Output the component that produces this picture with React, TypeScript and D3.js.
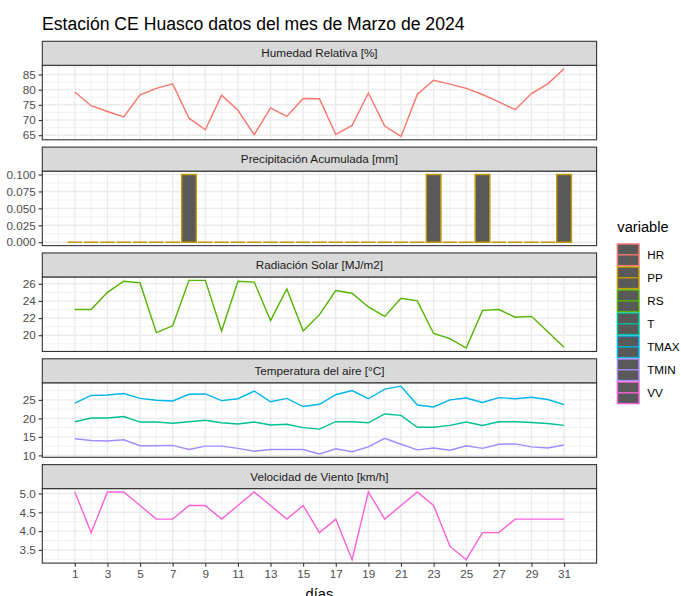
import React, { useEffect, useRef } from 'react';
import * as d3 from 'd3';

// dias del mes
const dias = [1, 2, 3, 4, 5, 6, 7, 8, 9, 10, 11, 12, 13, 14, 15, 16, 17, 18, 19, 20, 21, 22, 23, 24, 25, 26, 27, 28, 29, 30, 31];

const HR = [79.2, 74.7, 72.8, 71.0, 78.3, 80.4, 81.9, 70.6, 66.8, 78.2, 73.2, 65.2, 74.0, 71.2, 77.1, 77.0, 65.2, 68.2, 78.9, 68.0, 64.6, 78.4, 83.1, 81.8, 80.4, 78.4, 76.0, 73.4, 78.7, 81.9, 86.9];
const PP = [0, 0, 0, 0, 0, 0, 0, 0.1, 0, 0, 0, 0, 0, 0, 0, 0, 0, 0, 0, 0, 0, 0, 0.1, 0, 0, 0.1, 0, 0, 0, 0, 0.1];
const RS = [23.0, 23.0, 25.0, 26.3, 26.1, 20.3, 21.1, 26.4, 26.4, 20.5, 26.3, 26.2, 21.7, 25.4, 20.5, 22.4, 25.2, 24.9, 23.3, 22.2, 24.3, 24.0, 20.2, 19.6, 18.5, 22.9, 23.0, 22.1, 22.2, 20.4, 18.6];
const TMAX = [24.1, 26.2, 26.3, 26.7, 25.4, 24.9, 24.7, 26.5, 26.6, 24.8, 25.3, 27.4, 24.5, 25.4, 23.2, 23.8, 26.4, 27.5, 25.3, 27.9, 28.7, 23.6, 23.1, 25.0, 25.5, 24.3, 25.6, 25.3, 25.7, 25.1, 23.7];
const T = [19.1, 20.1, 20.1, 20.5, 19.0, 19.0, 18.7, 19.1, 19.5, 18.8, 18.5, 19.0, 18.2, 18.4, 17.5, 17.1, 19.1, 19.1, 18.8, 21.2, 20.8, 17.6, 17.6, 18.1, 19.0, 18.1, 19.1, 19.1, 18.9, 18.6, 18.1];
const TMIN = [14.5, 14.0, 13.9, 14.2, 12.6, 12.6, 12.7, 11.6, 12.5, 12.5, 11.9, 11.1, 11.6, 11.6, 11.6, 10.4, 11.8, 11.0, 12.3, 14.6, 13.0, 11.5, 12.0, 11.4, 12.6, 11.9, 13.0, 13.1, 12.3, 12.0, 12.8];
const VV = [5.04, 3.96, 5.04, 5.04, 4.68, 4.32, 4.32, 4.68, 4.68, 4.32, 4.68, 5.04, 4.68, 4.32, 4.68, 3.96, 4.32, 3.24, 5.04, 4.32, 4.68, 5.04, 4.68, 3.6, 3.24, 3.96, 3.96, 4.32, 4.32, 4.32, 4.32];

const xTicks = [1, 3, 5, 7, 9, 11, 13, 15, 17, 19, 21, 23, 25, 27, 29, 31];
const hrTicks = [65, 70, 75, 80, 85];
const ppTicks = [0, 0.025, 0.05, 0.075, 0.1];
const rsTicks = [20, 22, 24, 26];
const tTicks = [10, 15, 20, 25];
const vvTicks = [3.5, 4.0, 4.5, 5.0];

const variables = ['HR', 'PP', 'RS', 'T', 'TMAX', 'TMIN', 'VV'];
const colores = ['#F8766D', '#C49A00', '#53B400', '#00C094', '#00B6EB', '#A58AFF', '#FB61D7'];

const FONT = '"Liberation Sans", Arial, Helvetica, sans-serif';

const App = () => {
  const ref = useRef(null);

  useEffect(() => {
    if (ref.current) drawChart(ref.current);
  }, []);

  return <div ref={ref} style={{ position: 'absolute', left: 0, top: 0 }} />;
};

function drawChart(container) {
  d3.select(container).selectAll('*').remove();

  const width = 681, height = 596;
  const left = 42.3, right = 596.6;
  const top0 = 41.3, stripH = 24, panelH = 74.5, gap = 7.33;
  const color = d3.scaleOrdinal().domain(variables).range(colores);

  const svg = d3.select(container).append('svg')
    .attr('width', width)
    .attr('height', height)
    .style('display', 'block')
    .style('font-family', FONT)
    .style('background', '#fff');

  // title
  svg.append('text')
    .attr('x', 42)
    .attr('y', 29.5)
    .attr('font-size', 17.6)
    .attr('fill', '#000')
    .text('Estación CE Huasco datos del mes de Marzo de 2024');

  // x scale shared (bars 0.9 wide + 5% expansion)
  const xr = [1 - 0.45, 31 + 0.45];
  const xpad = (xr[1] - xr[0]) * 0.05;
  const x = d3.scaleLinear().domain([xr[0] - xpad, xr[1] + xpad]).range([left, right]);

  const panels = [
    { title: 'Humedad Relativa [%]', series: [['HR', HR]], ticks: hrTicks, fmt: d3.format('d') },
    { title: 'Precipitación Acumulada [mm]', series: [['PP', PP]], ticks: ppTicks, fmt: d3.format('.3f'), bars: true },
    { title: 'Radiación Solar [MJ/m2]', series: [['RS', RS]], ticks: rsTicks, fmt: d3.format('d') },
    { title: 'Temperatura del aire [°C]', series: [['T', T], ['TMAX', TMAX], ['TMIN', TMIN]], ticks: tTicks, fmt: d3.format('d') },
    { title: 'Velocidad de Viento [km/h]', series: [['VV', VV]], ticks: vvTicks, fmt: d3.format('.1f') },
  ];

  panels.forEach((p, i) => {
    const sTop = top0 + i * (stripH + panelH + gap);
    const pTop = sTop + stripH;
    const pBot = pTop + panelH;

    const all = p.series.flatMap(s => s[1]);
    let lo = d3.min(all), hi = d3.max(all);
    if (p.bars) lo = Math.min(0, lo);
    const pad = (hi - lo) * 0.05;
    const y = d3.scaleLinear().domain([lo - pad, hi + pad]).range([pBot, pTop]);

    const g = svg.append('g');

    // panel background
    g.append('rect')
      .attr('x', left).attr('y', pTop)
      .attr('width', right - left).attr('height', panelH)
      .attr('fill', '#fff');

    // minor grid
    const step = p.ticks[1] - p.ticks[0];
    const ext = [p.ticks[0] - step, ...p.ticks, p.ticks[p.ticks.length - 1] + step];
    const yMinor = d3.pairs(ext).map(([a, b]) => (a + b) / 2)
      .filter(v => v >= y.domain()[0] && v <= y.domain()[1]);
    const xMinor = [0, 2, 4, 6, 8, 10, 12, 14, 16, 18, 20, 22, 24, 26, 28, 30, 32];

    g.selectAll('.yminor').data(yMinor).enter().append('line')
      .attr('x1', left).attr('x2', right)
      .attr('y1', d => y(d)).attr('y2', d => y(d))
      .attr('stroke', '#EBEBEB').attr('stroke-width', 0.71);
    g.selectAll('.xminor').data(xMinor).enter().append('line')
      .attr('x1', d => x(d)).attr('x2', d => x(d))
      .attr('y1', pTop).attr('y2', pBot)
      .attr('stroke', '#EBEBEB').attr('stroke-width', 0.71);

    // major grid
    g.selectAll('.ymajor').data(p.ticks).enter().append('line')
      .attr('x1', left).attr('x2', right)
      .attr('y1', d => y(d)).attr('y2', d => y(d))
      .attr('stroke', '#EBEBEB').attr('stroke-width', 1.42);
    g.selectAll('.xmajor').data(xTicks).enter().append('line')
      .attr('x1', d => x(d)).attr('x2', d => x(d))
      .attr('y1', pTop).attr('y2', pBot)
      .attr('stroke', '#EBEBEB').attr('stroke-width', 1.42);

    // data
    p.series.forEach(([name, vals]) => {
      const data = dias.map((d, k) => ({ d, v: vals[k] }));
      if (p.bars) {
        g.selectAll('.bar-' + name).data(data).enter().append('path')
          .attr('d', o => `M${x(o.d - 0.45)},${y(0)}H${x(o.d + 0.45)}V${y(o.v)}H${x(o.d - 0.45)}Z`)
          .attr('fill', '#595959')
          .attr('stroke', color(name))
          .attr('stroke-width', 1.42);
      } else {
        g.append('path')
          .datum(data)
          .attr('fill', 'none')
          .attr('stroke', color(name))
          .attr('stroke-width', 1.42)
          .attr('d', d3.line().x(o => x(o.d)).y(o => y(o.v)));
      }
    });

    // panel border
    g.append('rect')
      .attr('x', left).attr('y', pTop)
      .attr('width', right - left).attr('height', panelH)
      .attr('fill', 'none').attr('stroke', '#333333').attr('stroke-width', 1.1);

    // strip
    g.append('rect')
      .attr('x', left).attr('y', sTop)
      .attr('width', right - left).attr('height', stripH)
      .attr('fill', '#D9D9D9').attr('stroke', '#333333').attr('stroke-width', 1.1);
    g.append('text')
      .attr('x', (left + right) / 2).attr('y', sTop + stripH / 2)
      .attr('dy', '0.35em')
      .attr('text-anchor', 'middle')
      .attr('font-size', 11.7)
      .attr('fill', '#1A1A1A')
      .text(p.title);

    // y axis
    const yAxis = g.append('g')
      .attr('transform', `translate(${left},0)`)
      .call(d3.axisLeft(y).tickValues(p.ticks).tickFormat(p.fmt).tickSize(3.67).tickPadding(2.9));
    yAxis.select('.domain').remove();
    yAxis.selectAll('line').attr('stroke', '#333333').attr('stroke-width', 1.1);
    yAxis.selectAll('text').attr('fill', '#4D4D4D').attr('font-size', 11.7).attr('font-family', FONT);

    // x axis only at the bottom
    if (i === panels.length - 1) {
      const xAxis = g.append('g')
        .attr('transform', `translate(0,${pBot})`)
        .call(d3.axisBottom(x).tickValues(xTicks).tickFormat(d3.format('d')).tickSize(3.67).tickPadding(2.9));
      xAxis.select('.domain').remove();
      xAxis.selectAll('line').attr('stroke', '#333333').attr('stroke-width', 1.1);
      xAxis.selectAll('text').attr('fill', '#4D4D4D').attr('font-size', 11.7).attr('font-family', FONT);

      svg.append('text')
        .attr('x', (left + right) / 2)
        .attr('y', pBot + 35.5)
        .attr('text-anchor', 'middle')
        .attr('font-size', 14.67)
        .attr('fill', '#000')
        .text('días');
    }
  });

  // legend
  const lg = svg.append('g');
  lg.append('text')
    .attr('x', 617.3).attr('y', 231.7)
    .attr('font-size', 14.67)
    .attr('fill', '#000')
    .text('variable');

  const keyX = 616.7, keyY = 243.3, keyS = 23;
  variables.forEach((v, k) => {
    const ky = keyY + k * keyS;
    lg.append('rect')
      .attr('x', keyX + 0.7).attr('y', ky + 0.7)
      .attr('width', keyS - 1.4).attr('height', keyS - 1.4)
      .attr('fill', '#595959')
      .attr('stroke', color(v)).attr('stroke-width', 1.42);
    lg.append('line')
      .attr('x1', keyX + 0.7).attr('x2', keyX + keyS - 0.7)
      .attr('y1', ky + keyS / 2).attr('y2', ky + keyS / 2)
      .attr('stroke', color(v)).attr('stroke-width', 1.42);
    lg.append('text')
      .attr('x', keyX + keyS + 7.5).attr('y', ky + keyS / 2)
      .attr('dy', '0.35em')
      .attr('font-size', 11.7)
      .attr('fill', '#000')
      .text(v);
  });
}

export default App;
